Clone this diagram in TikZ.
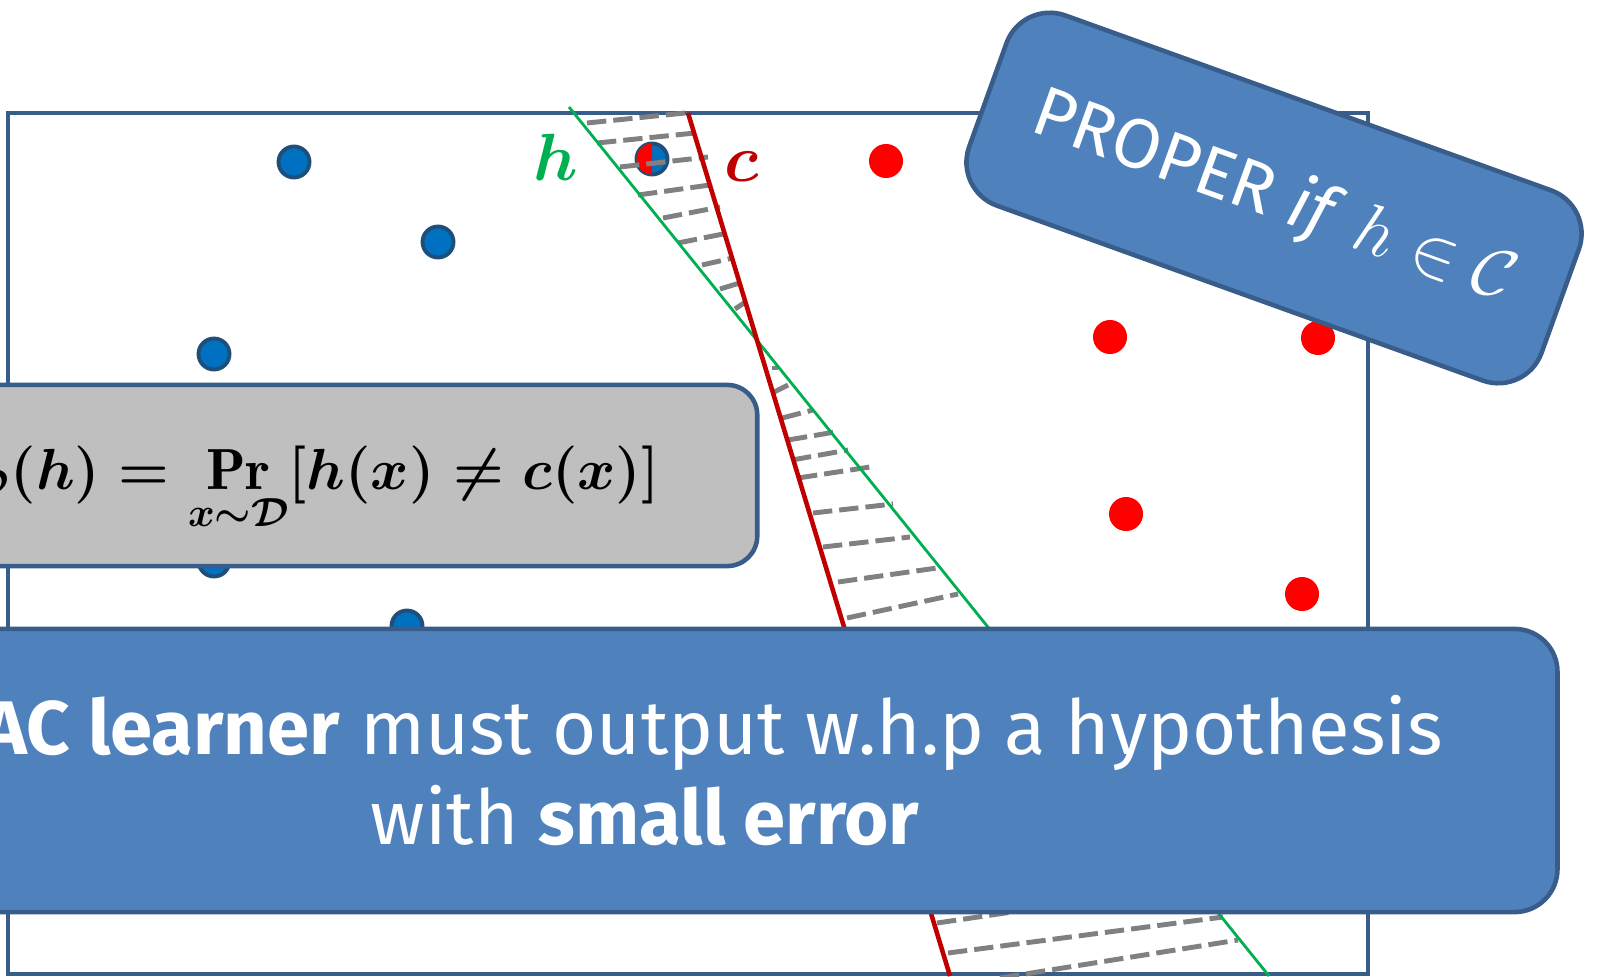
\RequirePackage{fix-cm}
\documentclass[tikz,border=0pt]{standalone}
\usepackage{amsmath}
\usepackage{amssymb}
\usepackage{graphicx}
\usepackage{fontspec}
\newfontfamily\handfont{Fira Sans}
\usepackage{tikz}
\usetikzlibrary{positioning}
\definecolor{boxBlue}{HTML}{4F81BD}
\definecolor{edgeBlue}{HTML}{385D8A}
\definecolor{dotBlue}{HTML}{0070C0}
\definecolor{dotRing}{HTML}{1F4E79}
\definecolor{boxGray}{HTML}{BFBFBF}
\definecolor{hGreen}{HTML}{00B050}
\definecolor{cRed}{HTML}{C00000}
\definecolor{hatchGray}{HTML}{808080}

\begin{document}
\begin{tikzpicture}[x=0.01cm,y=-0.01cm,
  bluedot/.style={circle,fill=dotBlue,draw=dotRing,line width=1.1pt,minimum size=0.31cm,inner sep=0pt},
  reddot/.style={circle,fill=red,minimum size=0.34cm,inner sep=0pt},
  hatch/.style={hatchGray,line width=1.4pt,dash pattern=on 5.5pt off 2pt},
  panel/.style={draw=edgeBlue,line width=1.3pt,inner sep=0pt},
  handtext/.style={text=white,font=\handfont\fontsize{21.6}{25}\selectfont,anchor=base}]
  \useasboundingbox (0,0) rectangle (1598,976);
  \clip (0,0) rectangle (1598,976);
  \draw[edgeBlue,line width=1.1pt] (8,113) rectangle (1368,974);
  \foreach \px/\py [count=\i] in {294/162,438/242,214/354,214/561,407/626}
    \node[bluedot] (blue\i) at (\px,\py) {};
  \foreach \px/\py [count=\i] in {886/161,1110/337,1318/338,1126/514,1302/594}
    \node[reddot] (red\i) at (\px,\py) {};
  \node[bluedot] (mixdot) at (652,159) {};
  \begin{scope}
    \clip (630,130) rectangle (652,190);
    \fill[red] (mixdot.center) circle (15.5);
  \end{scope}
  \foreach \ax/\ay/\bx/\by in {587/123/685/113,597/143/695/133,620/167/708/157,
      638/195/710/185,663/218/720/207,678/243/723/234,702/265/733/258,
      720/289/743/282,735/309/744/303,772/368/778/368,772/393/788/385,
      782/418/813/410,788/440/835/432,792/460/848/450,798/478/870/467,
      813/513/893/504,823/547/910/537,838/582/937/568,847/618/958/594,
      937/923/1060/905,948/953/1223/917,1000/978/1238/940}
    \draw[hatch] (\ax,\ay) -- (\bx,\by);
  \coordinate (hTop) at (569,107);
  \coordinate (hEnd) at (1269,976);
  \coordinate (cTop) at (688,113);
  \coordinate (cEnd) at (950,976);
  \draw[hGreen,line width=0.8pt] (hTop) -- (hEnd);
  \draw[cRed,line width=1.3pt] (cTop) -- (cEnd);
  \node[text=hGreen,font=\boldmath\fontsize{19}{22}\selectfont,anchor=base] (hlabel) at (556,180) {$h$};
  \node[text=cRed,font=\boldmath\fontsize{19}{22}\selectfont,anchor=base] (clabel) at (742,181) {$c$};
  \node[panel,fill=boxGray,rounded corners=0.3cm,minimum width=8.57cm,minimum height=1.81cm] (errbox) at (328.5,475.5) {};
  \node[font=\boldmath\fontsize{16.5}{20}\selectfont,anchor=base east,inner sep=0pt] (errformula) at (660,489)
    {$\displaystyle \mathrm{err}_{\mathcal{D}}(h) = \Pr_{x\sim\mathcal{D}}[h(x)\neq c(x)]$};
  \node[panel,fill=boxBlue,rounded corners=0.43cm,minimum width=16.57cm,minimum height=2.83cm] (pacbox) at (728.5,770.5) {};
  \node[handtext] (pacline1) at (692,754) {\textbf{PAC learner} must output w.h.p a hypothesis};
  \node[handtext] (pacline2) at (645,844) {with \textbf{small error}};
  \node[panel,fill=boxBlue,rotate=-19.8,rounded corners=0.46cm,minimum width=6.08cm,minimum height=2.02cm,
    text=white,font=\handfont\fontsize{20}{23}\selectfont] (properbox) at (1274,198)
    {PROPER \textit{if} $h\in\mathcal{C}$};
\end{tikzpicture}
\end{document}
